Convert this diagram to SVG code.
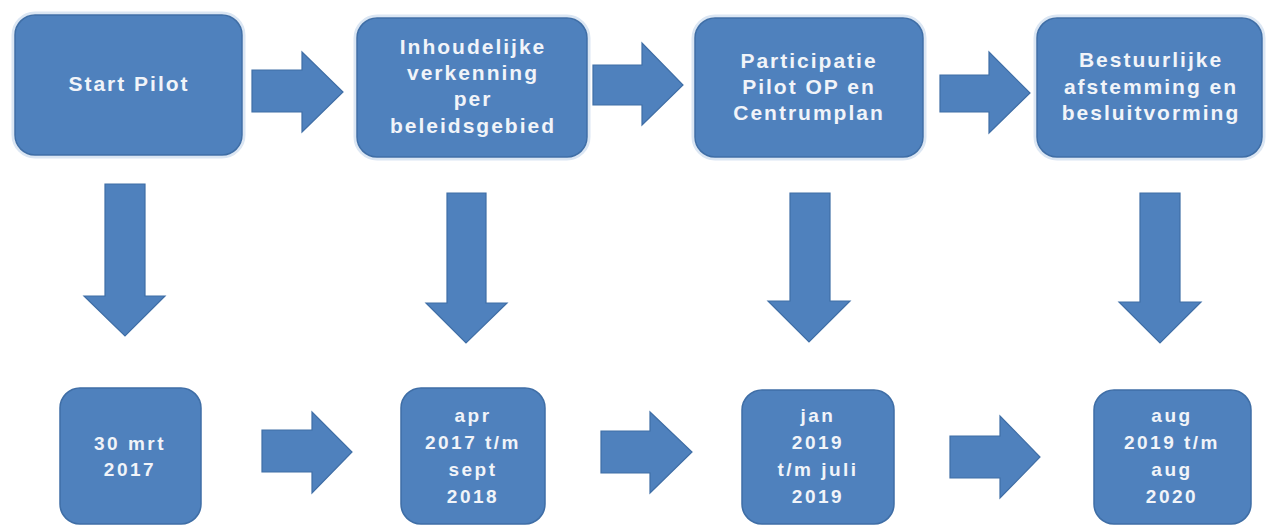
<svg xmlns="http://www.w3.org/2000/svg" width="1271" height="527" viewBox="0 0 1271 527">
<style>
.box{fill:#4f81bd;stroke:#3f6ea6;stroke-width:1.5}
.halo{fill:none;stroke:#dbe6f3;stroke-width:3}
.arr{fill:#4f81bd;stroke:#3f6ea6;stroke-width:1.2}
.t{font-family:"Liberation Sans",Arial,sans-serif;font-weight:bold;fill:#f1f4f9;text-anchor:middle;font-size:21px;letter-spacing:2px}
.b{font-size:19px;letter-spacing:2.5px}
</style>
<rect width="1271" height="527" fill="#ffffff"/>
<g id="connectors">
  <path class="arr" d="M252,70 H302 V52 L343,92 L302,132 V112 H252 Z"/>
  <path class="arr" d="M593,65 H642 V43 L683,85 L642,125 V105 H593 Z"/>
  <path class="arr" d="M940,75 H989 V52 L1030,93 L989,133 V112 H940 Z"/>
  <path class="arr" d="M105,184 H145 V296 H165 L125,336 L84,296 H105 Z"/>
  <path class="arr" d="M447,193 H486 V303 H507 L466,343 L426,303 H447 Z"/>
  <path class="arr" d="M790,193 H830 V301 H850 L809,342 L768,301 H790 Z"/>
  <path class="arr" d="M1140,193 H1180 V302 H1201 L1160,343 L1119,302 H1140 Z"/>
  <path class="arr" d="M262,430 H312 V412 L352,452 L312,493 V472 H262 Z"/>
  <path class="arr" d="M601,431 H650 V412 L692,452 L650,493 V473 H601 Z"/>
  <path class="arr" d="M950,436 H1000 V416 L1040,457 L1000,498 V478 H950 Z"/>
</g>
<g id="n1"><rect class="halo" x="13" y="13" width="231" height="144" rx="22"/><rect class="box" x="15" y="15" width="227" height="140" rx="20"/><text class="t" x="129" y="91">Start Pilot</text></g>
<g id="n2"><rect class="halo" x="355" y="16" width="234" height="143" rx="22"/><rect class="box" x="357" y="18" width="230" height="139" rx="20"/><text class="t" x="473" y="54">Inhoudelijke</text><text class="t" x="473" y="80">verkenning</text><text class="t" x="473" y="106">per</text><text class="t" x="473" y="133">beleidsgebied</text></g>
<g id="n3"><rect class="halo" x="693" y="16" width="232" height="143" rx="22"/><rect class="box" x="695" y="18" width="228" height="139" rx="20"/><text class="t" x="809" y="68">Participatie</text><text class="t" x="809" y="94">Pilot OP en</text><text class="t" x="809" y="120">Centrumplan</text></g>
<g id="n4"><rect class="halo" x="1035" y="16" width="229" height="143" rx="22"/><rect class="box" x="1037" y="18" width="225" height="139" rx="20"/><text class="t" x="1151" y="67">Bestuurlijke</text><text class="t" x="1151" y="94">afstemming en</text><text class="t" x="1151" y="120">besluitvorming</text></g>
<g id="d1"><rect class="box" x="60" y="388" width="141" height="136" rx="20"/><text class="t b" x="130" y="450">30 mrt</text><text class="t b" x="130" y="476">2017</text></g>
<g id="d2"><rect class="box" x="401" y="388" width="144" height="136" rx="20"/><text class="t b" x="473" y="422">apr</text><text class="t b" x="473" y="449">2017 t/m</text><text class="t b" x="473" y="476">sept</text><text class="t b" x="473" y="503">2018</text></g>
<g id="d3"><rect class="box" x="742" y="390" width="152" height="134" rx="20"/><text class="t b" x="818" y="422">jan</text><text class="t b" x="818" y="449">2019</text><text class="t b" x="818" y="476">t/m juli</text><text class="t b" x="818" y="503">2019</text></g>
<g id="d4"><rect class="box" x="1094" y="390" width="157" height="134" rx="20"/><text class="t b" x="1172" y="422">aug</text><text class="t b" x="1172" y="449">2019 t/m</text><text class="t b" x="1172" y="476">aug</text><text class="t b" x="1172" y="503">2020</text></g>
</svg>
